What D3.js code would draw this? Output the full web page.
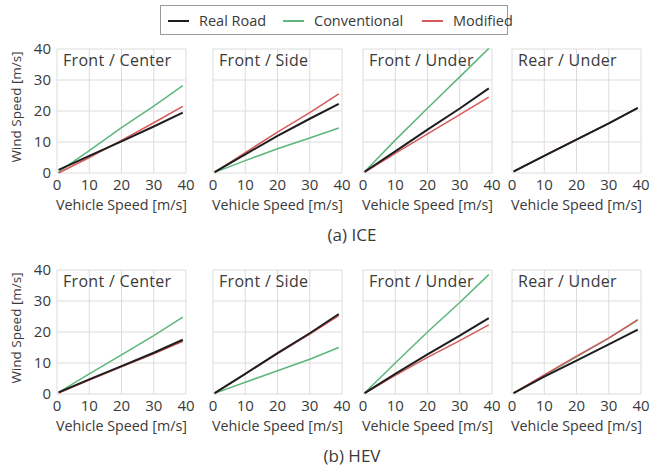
<!DOCTYPE html>
<html><head><meta charset="utf-8">
<script src="https://cdn.jsdelivr.net/npm/d3@7/dist/d3.min.js"></script>
<style>body{margin:0;background:#fff}svg{display:block}</style>
</head><body>
<script>
// ---- data ----
const seriesNames = ["Real Road", "Conventional", "Modified"];
const panelTitles = ["Front / Center", "Front / Side", "Front / Under", "Rear / Under"];
const groupLabels = ["(a) ICE", "(b) HEV"];
const vehicleSpeed = [0.5, 10, 20, 30, 39];
const xTicks = [0, 10, 20, 30, 40];
const yTicks = [0, 10, 20, 30, 40];

// ICE
const iceReal = [[1.0, 5.5, 10.2, 15.0, 19.5], [0.3, 6.0, 12.0, 17.5, 22.3], [0.4, 7.0, 14.0, 20.8, 27.3], [0.5, 5.5, 10.8, 16.0, 21.0]];
const iceConv = [[0.4, 7.2, 14.6, 21.6, 28.2], [0.2, 4.0, 7.8, 11.3, 14.5], [0.4, 10.6, 20.9, 31.0, 40.2], [0.4, 5.5, 10.8, 16.0, 20.9]];
const iceMod  = [[0.0, 5.0, 10.5, 16.2, 21.5], [0.2, 6.6, 13.2, 19.5, 25.5], [0.2, 6.3, 12.6, 18.8, 24.5], [0.4, 5.6, 10.8, 16.0, 20.9]];
// HEV
const hevReal = [[0.5, 4.7, 9.0, 13.3, 17.5], [0.3, 6.5, 13.2, 19.6, 25.8], [0.3, 6.5, 12.8, 18.8, 24.5], [0.3, 5.6, 10.8, 16.0, 20.8]];
const hevConv = [[0.5, 6.5, 12.6, 18.8, 24.8], [0.2, 3.8, 7.5, 11.2, 15.0], [0.3, 10.0, 20.0, 29.5, 38.5], [0.3, 6.0, 12.0, 18.0, 23.8]];
const hevMod  = [[0.3, 4.5, 8.8, 13.0, 17.0], [0.2, 6.5, 13.0, 19.3, 25.3], [0.2, 6.0, 11.8, 17.2, 22.3], [0.3, 6.2, 12.2, 18.0, 24.0]];

const colors = ["#1e1e1e", "#5db67c", "#d65a5a"];

// ---- layout ----
const W = 651, H = 468;
const panelLeft = [57, 213, 363, 512];
const panelW = 129, panelH = 124;
const rowTop = [49, 270];
const font = "'Open Sans', sans-serif";
const txt = "#3a3a3a";

const svg = d3.select("body").append("svg").attr("width", W).attr("height", H)
  .style("font-family", font);

const groups = [[iceReal, iceConv, iceMod], [hevReal, hevConv, hevMod]];

groups.forEach((grp, r) => {
  const top = rowTop[r];
  panelLeft.forEach((left, p) => {
    const x = d3.scaleLinear().domain([0, 40]).range([left, left + panelW]);
    const y = d3.scaleLinear().domain([0, 40]).range([top + panelH, top]);
    const g = svg.append("g");
    // grid
    g.selectAll(".vg").data(xTicks).join("line")
      .attr("x1", d => x(d)).attr("x2", d => x(d)).attr("y1", top).attr("y2", top + panelH)
      .attr("stroke", "#dcdcdc").attr("stroke-width", 1);
    g.selectAll(".hg").data(yTicks).join("line")
      .attr("y1", d => y(d)).attr("y2", d => y(d)).attr("x1", left).attr("x2", left + panelW)
      .attr("stroke", "#dcdcdc").attr("stroke-width", 1);
    // title
    g.append("text").attr("x", left + 6).attr("y", top + 17)
      .attr("font-size", 16).attr("letter-spacing", 0.3).attr("fill", txt).text(panelTitles[p]);
    // lines
    const clipId = `c${r}${p}`;
    svg.append("clipPath").attr("id", clipId).append("rect")
      .attr("x", left - 2).attr("y", top - 1).attr("width", panelW + 4).attr("height", panelH + 3);
    const line = d3.line().x((d, i) => x(vehicleSpeed[i])).y(d => y(d));
    [1, 2, 0].forEach(s => {
      g.append("path").attr("d", line(grp[s][p])).attr("fill", "none")
        .attr("stroke", colors[s]).attr("stroke-width", s === 0 ? 2 : 1.5)
        .attr("clip-path", `url(#${clipId})`);
    });
    // x axis ticks
    g.selectAll(".xt").data(xTicks).join("text")
      .attr("x", d => x(d)).attr("y", top + panelH + 17).attr("text-anchor", "middle")
      .attr("font-size", 15).attr("fill", txt).text(d => d);
    g.append("text").attr("x", left + panelW / 2).attr("y", top + panelH + 37)
      .attr("text-anchor", "middle").attr("font-size", 14.3).attr("fill", txt)
      .text("Vehicle Speed [m/s]");
    if (p === 0) {
      g.selectAll(".yt").data(yTicks).join("text")
        .attr("x", left - 6).attr("y", d => y(d) + 5).attr("text-anchor", "end")
        .attr("font-size", 15).attr("fill", txt).text(d => d);
      g.append("text").attr("transform", `translate(21,${top + panelH / 2 - 4}) rotate(-90)`)
        .attr("text-anchor", "middle").attr("font-size", 13.5).attr("fill", txt)
        .text("Wind Speed [m/s]");
    }
  });
  svg.append("text").attr("x", 352).attr("y", r === 0 ? 241 : 462)
    .attr("text-anchor", "middle").attr("font-size", 17).attr("fill", txt)
    .text(groupLabels[r]);
});

// legend
const lg = svg.append("g");
lg.append("rect").attr("x", 160.5).attr("y", 5.5).attr("width", 347).attr("height", 29)
  .attr("fill", "#fff").attr("stroke", "#9a9a9a");
const legX = [168, 283, 422];
seriesNames.forEach((n, i) => {
  lg.append("line").attr("x1", legX[i]).attr("x2", legX[i] + 21).attr("y1", 21).attr("y2", 21)
    .attr("stroke", colors[i]).attr("stroke-width", 2);
  lg.append("text").attr("x", legX[i] + 31).attr("y", 26).attr("font-size", 14.5)
    .attr("fill", txt).text(n);
});
</script>
</body></html>
